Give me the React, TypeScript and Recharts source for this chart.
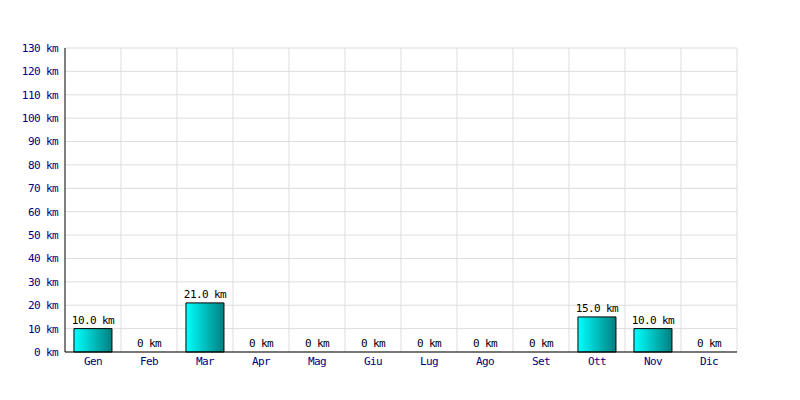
import React from 'react';
import { BarChart, Bar, XAxis, YAxis, CartesianGrid, Rectangle } from 'recharts';

const months = ['Gen', 'Feb', 'Mar', 'Apr', 'Mag', 'Giu', 'Lug', 'Ago', 'Set', 'Ott', 'Nov', 'Dic'];
const distances = [10, 0, 21, 0, 0, 0, 0, 0, 0, 15, 10, 0];
const yTicks = [0, 10, 20, 30, 40, 50, 60, 70, 80, 90, 100, 110, 120, 130];

const data = months.map((m, i) => ({ month: m, km: distances[i] }));

const font = '"DejaVu Sans Mono", monospace';
const textStyle = { fontSize: 11, fontFamily: font, letterSpacing: -0.6 };

const fmtLabel = (v: any) => (Number(v) === 0 ? '0 km' : `${Number(v).toFixed(1)} km`);

// bar plus its value label; zero bars still get "0 km"
const BarWithLabel = (props: any) => {
  const { x, y, width, height, km } = props;
  const h = Number(height) || 0;
  const top = Math.min(Number(y), Number(y) + h);
  return (
    <g>
      {Math.abs(h) > 0 && (
        <Rectangle x={x} y={y} width={width} height={height} fill="url(#barFill)" stroke="#000" strokeWidth={1} />
      )}
      <text x={Number(x) + Number(width) / 2} y={top - 5} textAnchor="middle" fill="#000" style={textStyle}>
        {fmtLabel(km)}
      </text>
    </g>
  );
};

export default function App() {
  return (
    <div style={{ position: 'absolute', left: 0, top: 0, width: 800, height: 400, background: '#fff' }}>
      <BarChart
        width={800}
        height={400}
        data={data}
        margin={{ top: 48, right: 63, bottom: 0, left: 0 }}
        barCategoryGap="16%"
      >
        <defs>
          <linearGradient id="barFill" x1="0" y1="0" x2="1" y2="0">
            <stop offset="0%" stopColor="#00ffff" />
            <stop offset="100%" stopColor="#008080" />
          </linearGradient>
        </defs>
        <CartesianGrid
          stroke="#dddddd"
          strokeWidth={1}
          verticalCoordinatesGenerator={({ offset }: any) =>
            months.map((_, i) => offset.left + ((i + 1) * offset.width) / months.length)
          }
        />
        <XAxis
          dataKey="month"
          height={48}
          tickLine={false}
          tickSize={4}
          tickMargin={1}
          axisLine={{ stroke: '#000' }}
          tick={{ fill: '#000080', ...textStyle }}
          interval={0}
        />
        <YAxis
          width={65}
          domain={[0, 130]}
          ticks={yTicks}
          interval={0}
          tickLine={false}
          tickSize={6}
          tickMargin={1}
          axisLine={{ stroke: '#000' }}
          tickFormatter={(v: number) => `${v} km`}
          tick={{ fill: '#000080', ...textStyle }}
        />
        <Bar dataKey="km" shape={BarWithLabel} isAnimationActive={false} />
      </BarChart>
    </div>
  );
}
